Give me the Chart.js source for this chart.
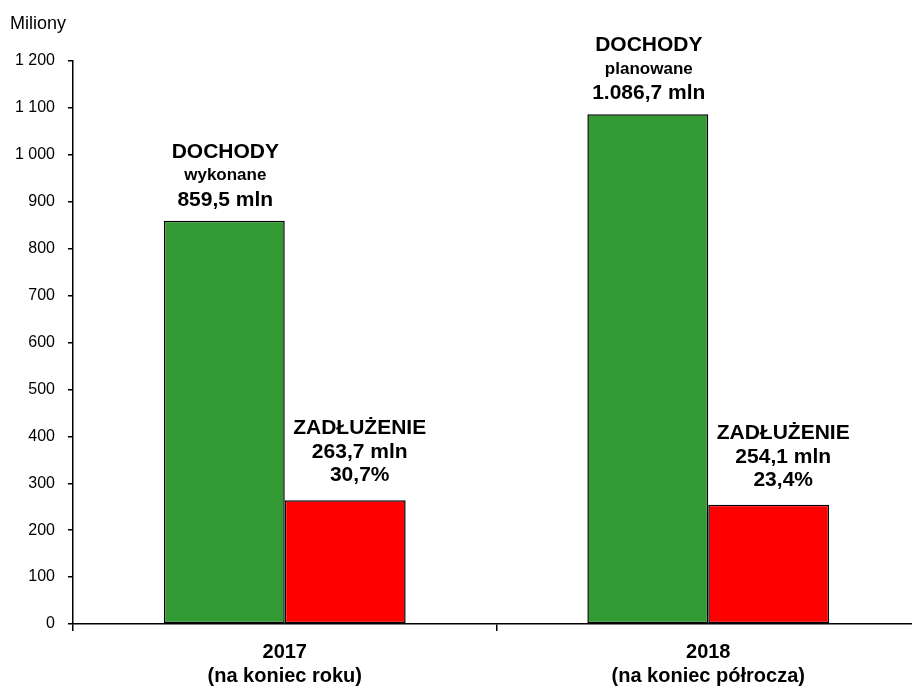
<!DOCTYPE html>
<html>
<head>
<meta charset="utf-8">
<script src="https://cdn.jsdelivr.net/npm/chart.js@4/dist/chart.umd.min.js"></script>
<style>
  html, body { margin: 0; padding: 0; background: #fff; overflow: hidden; }
  #wrap { width: 912px; height: 686px; overflow: hidden; position: relative; }
  canvas { display: block; }
</style>
</head>
<body>
<div id="wrap"><canvas id="c" width="922" height="686"></canvas></div>
<script>
const categories = [["2017", "(na koniec roku)"], ["2018", "(na koniec półrocza)"]];
const dochody = [859.5, 1086.7];
const zadluzenie = [263.7, 254.1];
const dochodyStatus = ["wykonane", "planowane"];
const dochodyLabels = ["859,5 mln", "1.086,7 mln"];
const zadluzenieLabels = ["263,7 mln", "254,1 mln"];
const zadluzeniePct = ["30,7%", "23,4%"];
const yTitle = "Miliony";

const FONT = "'Liberation Sans', Arial, sans-serif";

const annot = {
  id: 'annot',
  afterDraw(chart) {
    const ctx = chart.ctx;
    ctx.save();
    ctx.fillStyle = '#000';
    ctx.textAlign = 'left';
    ctx.textBaseline = 'middle';
    ctx.font = '18px ' + FONT;
    ctx.fillText(yTitle, 10, 24);
    ctx.textAlign = 'center';
    const m0 = chart.getDatasetMeta(0);
    m0.data.forEach((bar, i) => {
      const x = bar.x + 1;
      ctx.font = 'bold 21px ' + FONT;
      ctx.fillText('DOCHODY', x, bar.y - 69);
      ctx.font = 'bold 17px ' + FONT;
      ctx.fillText(dochodyStatus[i], x, bar.y - 45);
      ctx.font = 'bold 21px ' + FONT;
      ctx.fillText(dochodyLabels[i], x, bar.y - 21);
    });
    const m1 = chart.getDatasetMeta(1);
    m1.data.forEach((bar, i) => {
      const x = bar.x + 14.5;
      ctx.font = 'bold 21px ' + FONT;
      ctx.fillText('ZADŁUŻENIE', x, bar.y - 72);
      ctx.fillText(zadluzenieLabels[i], x, bar.y - 48);
      ctx.fillText(zadluzeniePct[i], x, bar.y - 25);
    });
    ctx.restore();
  }
};

new Chart(document.getElementById('c'), {
  type: 'bar',
  data: {
    labels: categories,
    datasets: [
      { label: 'Dochody', data: dochody, backgroundColor: '#339933', borderColor: '#000', borderWidth: 1.5, borderSkipped: false },
      { label: 'Zadłużenie', data: zadluzenie, backgroundColor: '#ff0000', borderColor: '#000', borderWidth: 1.5, borderSkipped: false }
    ]
  },
  options: {
    responsive: false,
    animation: false,
    devicePixelRatio: 1,
    categoryPercentage: 0.571,
    barPercentage: 1,
    layout: { padding: { top: 61, right: 2, left: 0, bottom: 0 } },
    plugins: { legend: { display: false }, tooltip: { enabled: false }, title: { display: false } },
    scales: {
      x: {
        offset: true,
        grid: { offset: true, drawOnChartArea: false, drawTicks: true, tickLength: 7, color: '#000', lineWidth: 1.5 },
        border: { display: true, color: '#000', width: 1.5 },
        ticks: { color: '#000', font: { family: FONT, size: 20, weight: 'bold' }, padding: 9, maxRotation: 0 },
        afterFit(scale) { scale.height = 62; }
      },
      y: {
        min: 0, max: 1200,
        ticks: {
          stepSize: 100, color: '#000', padding: 13,
          font: { family: FONT, size: 16 },
          callback: v => v >= 1000 ? Math.floor(v / 1000) + ' ' + String(v % 1000).padStart(3, '0') : String(v)
        },
        grid: { drawOnChartArea: false, drawTicks: true, tickLength: 5, color: '#000', lineWidth: 1.5 },
        border: { display: true, color: '#000', width: 1.5 },
        afterFit(scale) { scale.width = 73; }
      }
    }
  },
  plugins: [annot]
});
</script>
</body>
</html>
